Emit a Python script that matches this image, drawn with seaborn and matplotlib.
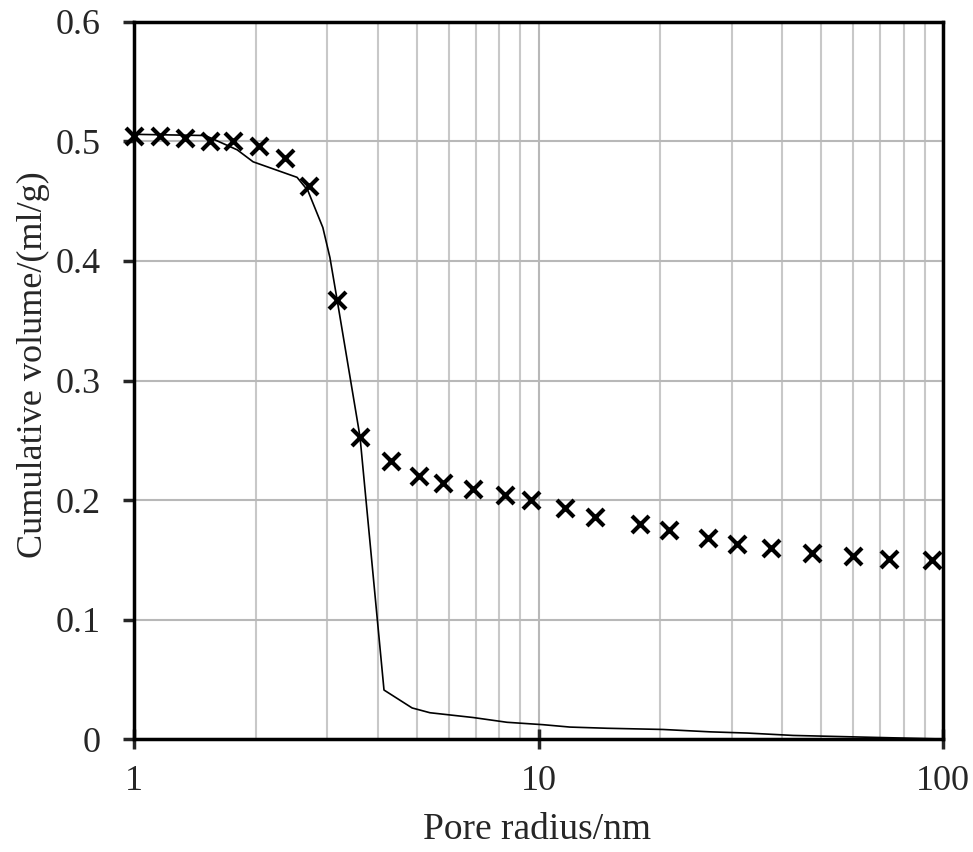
import matplotlib
matplotlib.use('Agg')
import matplotlib.pyplot as plt
import matplotlib.ticker as mticker
import seaborn as sns
import pandas as pd

# measured points (x markers)
meas_radius = [1.0, 1.16, 1.34, 1.54, 1.76, 2.04, 2.36, 2.71, 3.18, 3.62, 4.32,
               5.07, 5.81, 6.89, 8.26, 9.58, 11.6, 13.8, 17.8, 21.0, 26.2, 31.0,
               37.6, 47.5, 59.9, 73.5, 94.0]
meas_volume = [0.505, 0.505, 0.503, 0.500, 0.500, 0.496, 0.486, 0.463, 0.367, 0.253, 0.233,
               0.220, 0.214, 0.209, 0.204, 0.200, 0.193, 0.186, 0.180, 0.175, 0.168, 0.163,
               0.160, 0.156, 0.153, 0.151, 0.150]

# model curve (solid line)
line_radius = [1.0, 1.50, 1.80, 1.97, 2.53, 2.69, 2.93, 3.05, 3.18, 3.62, 4.15, 4.87,
               5.39, 6.89, 8.36, 10.26, 11.96, 14.8, 20.3, 26.6, 32.8, 42.6, 100.0]
line_volume = [0.506, 0.505, 0.493, 0.483, 0.470, 0.459, 0.428, 0.403, 0.367, 0.253, 0.041, 0.026,
               0.022, 0.018, 0.014, 0.012, 0.010, 0.009, 0.008, 0.006, 0.005, 0.003, 0.0]

df_meas = pd.DataFrame({'radius': meas_radius, 'volume': meas_volume})
df_line = pd.DataFrame({'radius': line_radius, 'volume': line_volume})

sns.set_style('white')
plt.rcParams['font.family'] = ['Liberation Serif', 'DejaVu Serif']

fig = plt.figure(figsize=(9.73, 8.52), dpi=100)
ax = fig.add_axes([0.1377, 0.1326, 0.8315, 0.8416])

sns.lineplot(data=df_line, x='radius', y='volume', color='black', linewidth=1.2,
             ax=ax, sort=False, zorder=3)
sns.scatterplot(data=df_meas, x='radius', y='volume', marker='x', s=150,
                color='black', linewidth=3, ax=ax, zorder=4, clip_on=False)

ax.set_xscale('log')
ax.set_xlim(1, 100)
ax.set_ylim(0, 0.6)
ax.set_yticks([0, 0.1, 0.2, 0.3, 0.4, 0.5, 0.6])
ax.yaxis.set_major_formatter(mticker.FuncFormatter(lambda v, p: '0' if v == 0 else f'{v:.1f}'))
ax.xaxis.set_major_locator(mticker.FixedLocator([1, 10, 100]))
ax.xaxis.set_major_formatter(mticker.FixedFormatter(['1', '10', '100']))
ax.xaxis.set_minor_locator(mticker.LogLocator(base=10, subs=range(2, 10)))
ax.xaxis.set_minor_formatter(mticker.NullFormatter())

ax.grid(True, which='major', color='#b8b8b8', linewidth=1.5)
ax.grid(True, which='minor', axis='x', color='#c8c8c8', linewidth=1.5)
ax.set_axisbelow(True)

for s in ax.spines.values():
    s.set_color('black')
    s.set_linewidth(2.5)

ax.tick_params(axis='y', which='major', direction='out', length=8, width=2.5,
               labelsize=26, pad=16, left=True)
ax.tick_params(axis='x', which='major', direction='inout', length=14, width=2.5,
               labelsize=26, pad=12, bottom=True)
ax.tick_params(axis='x', which='minor', length=0)

ax.set_xlabel('Pore radius/nm', fontsize=27)
ax.set_ylabel('Cumulative volume/(ml/g)', fontsize=26)
ax.yaxis.set_label_coords(-0.104, 0.522)
ax.xaxis.set_label_coords(0.498, -0.103)

fig.savefig('out.png', dpi=100)
